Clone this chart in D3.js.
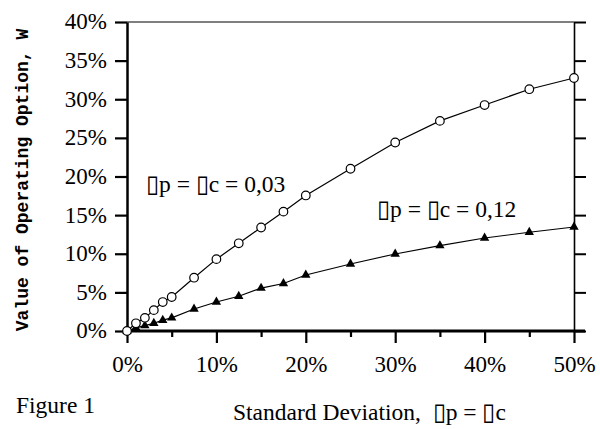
<!DOCTYPE html>
<html>
<head>
<meta charset="utf-8">
<script src="https://cdn.jsdelivr.net/npm/d3@7"></script>
<style>
  * { margin: 0; padding: 0; }
  body { background: #fff; }
  svg text { font-family: "Liberation Serif", "Times New Roman", serif; fill: #000; }
</style>
</head>
<body>
<div id="chart"></div>
<script>
// data (fractions)
var sigma = [0, 0.01, 0.02, 0.03, 0.04, 0.05, 0.075, 0.10, 0.125, 0.15, 0.175, 0.20, 0.25, 0.30, 0.35, 0.40, 0.45, 0.50];
var lowAlpha = [0, 0.010, 0.017, 0.027, 0.0375, 0.044, 0.069, 0.093, 0.1135, 0.134, 0.1545, 0.1755, 0.210, 0.244, 0.272, 0.2925, 0.313, 0.3275];
var highAlpha = [0, 0.004, 0.007, 0.010, 0.014, 0.017, 0.0285, 0.0375, 0.045, 0.0555, 0.0615, 0.0725, 0.0867, 0.0997, 0.1105, 0.1204, 0.1278, 0.1346];
var yTicks = [0, 0.05, 0.10, 0.15, 0.20, 0.25, 0.30, 0.35, 0.40];
var xTicks = [0, 0.10, 0.20, 0.30, 0.40, 0.50];
var xMinorTicks = [0.05, 0.15, 0.25, 0.35, 0.45];

var W = 600, H = 429;
var plotL = 127, plotR = 574, plotT = 22, plotB = 331;

var svg = d3.select("#chart").append("svg")
    .attr("width", W)
    .attr("height", H);

var x = d3.scaleLinear().domain([0, 0.5]).range([plotL, plotR]);
var y = d3.scaleLinear().domain([0, 0.4]).range([plotB, plotT]);
var pct = d3.format(".0%");

// frame: top and right
svg.append("line")
    .attr("x1", plotL).attr("x2", plotR)
    .attr("y1", plotT).attr("y2", plotT)
    .attr("stroke", "#000").attr("stroke-width", 1.2);

var rightAxis = svg.append("g")
    .attr("transform", "translate(" + plotR + ",0)")
    .call(d3.axisRight(y).tickValues(yTicks).tickSize(12).tickSizeOuter(0).tickFormat(""));
rightAxis.select(".domain").attr("stroke-width", 1.6);
rightAxis.selectAll(".tick line").attr("stroke-width", 2);

// left axis
var leftAxis = svg.append("g")
    .attr("transform", "translate(" + plotL + ",0)")
    .call(d3.axisLeft(y).tickValues(yTicks).tickSize(12).tickSizeOuter(0).tickPadding(8).tickFormat(pct));
leftAxis.select(".domain").attr("stroke-width", 2.5);
leftAxis.selectAll(".tick line").attr("stroke-width", 2.2);
leftAxis.selectAll(".tick text")
    .style("font-size", "23px")
    .attr("dy", "0.3em");

// bottom axis, minor then major ticks
var minorAxis = svg.append("g")
    .attr("transform", "translate(0," + plotB + ")")
    .call(d3.axisBottom(x).tickValues(xMinorTicks).tickSize(6).tickFormat(""));
minorAxis.select(".domain").remove();
minorAxis.selectAll(".tick line").attr("stroke-width", 2.2);

var bottomAxis = svg.append("g")
    .attr("transform", "translate(0," + plotB + ")")
    .call(d3.axisBottom(x).tickValues(xTicks).tickSize(12).tickFormat(pct));
bottomAxis.select(".domain")
    .attr("d", "M" + plotL + ",0H" + (plotR + 11))
    .attr("stroke-width", 3);
bottomAxis.selectAll(".tick line").attr("stroke-width", 2.2);
bottomAxis.selectAll(".tick text")
    .style("font-size", "23px")
    .attr("y", 41)
    .attr("dy", 0);

// series
var line = d3.line()
    .x(function (d, i) { return x(sigma[i]); })
    .y(function (d) { return y(d); });

svg.append("path")
    .datum(highAlpha)
    .attr("d", line)
    .attr("fill", "none")
    .attr("stroke", "#000")
    .attr("stroke-width", 1.2);

svg.append("path")
    .datum(lowAlpha)
    .attr("d", line)
    .attr("fill", "none")
    .attr("stroke", "#000")
    .attr("stroke-width", 1.2);

svg.selectAll(".tri")
    .data(highAlpha)
    .enter()
    .append("path")
    .attr("class", "tri")
    .attr("transform", function (d, i) { return "translate(" + x(sigma[i]) + "," + y(d) + ")"; })
    .attr("d", d3.symbol().type(d3.symbolTriangle).size(38))
    .attr("fill", "#000");

svg.selectAll(".circ")
    .data(lowAlpha)
    .enter()
    .append("circle")
    .attr("class", "circ")
    .attr("cx", function (d, i) { return x(sigma[i]); })
    .attr("cy", function (d) { return y(d); })
    .attr("r", 4.3)
    .attr("fill", "#fff")
    .attr("stroke", "#000")
    .attr("stroke-width", 1.2);

// annotations
svg.append("text")
    .attr("x", 146).attr("y", 192)
    .style("font-size", "23.5px")
    .text("\u25AFp = \u25AFc = 0,03");

svg.append("text")
    .attr("x", 377).attr("y", 217)
    .style("font-size", "23.5px")
    .text("\u25AFp = \u25AFc = 0,12");

svg.append("text")
    .attr("x", 233).attr("y", 420)
    .style("font-size", "23.5px")
    .style("white-space", "pre")
    .text("Standard Deviation,  \u25AFp = \u25AFc");

svg.append("text")
    .attr("x", 16).attr("y", 413)
    .style("font-size", "23.5px")
    .text("Figure 1");

svg.append("text")
    .attr("transform", "translate(28,180) rotate(-90)")
    .attr("text-anchor", "middle")
    .style("font-family", "'Liberation Mono', 'Courier New', monospace")
    .style("font-weight", "bold")
    .style("font-size", "18px")
    .text("Value of Operating Option, W");
</script>
</body>
</html>
